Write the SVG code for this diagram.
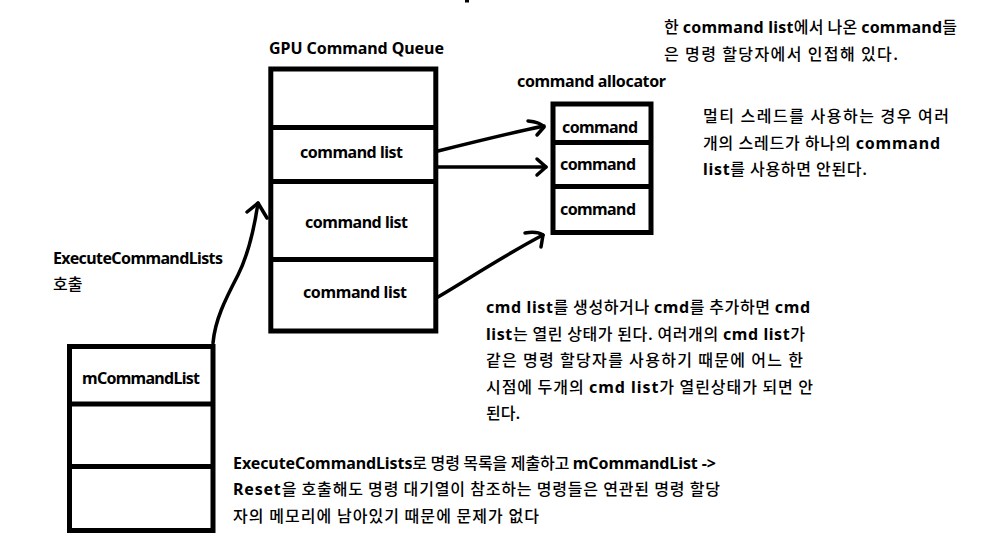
<svg xmlns="http://www.w3.org/2000/svg" width="985" height="543" viewBox="0 0 985 543">
<style>
.box{fill:none;stroke:#000;stroke-width:5}
.div{stroke:#000;stroke-width:5}
.t{font-family:"Noto Sans","Noto Sans CJK KR",sans-serif;font-weight:bold;font-size:16px;fill:#000}
.k{font-family:"Noto Sans CJK KR",sans-serif;font-weight:500}
.conn{fill:none;stroke:#000;stroke-width:3.5;stroke-linecap:round;stroke-linejoin:round}
</style>
<rect width="985" height="543" fill="#fff"/>
<rect x="465" y="0" width="4" height="2.5" fill="#000"/>
<g id="gpu-command-queue">
<text class="t" x="269" y="54" textLength="175">GPU Command Queue</text>
<rect class="box" x="270.8" y="69" width="165" height="262"/>
<line class="div" x1="270.8" y1="127.5" x2="435.8" y2="127.5"/>
<line class="div" x1="270.8" y1="181.5" x2="435.8" y2="181.5"/>
<line class="div" x1="270.8" y1="259.5" x2="435.8" y2="259.5"/>
<text class="t" x="300" y="158" textLength="103">command list</text>
<text class="t" x="305" y="228" textLength="103">command list</text>
<text class="t" x="303" y="298" textLength="104">command list</text>
</g>
<g id="command-allocator">
<text class="t" x="517" y="87" textLength="149">command allocator</text>
<rect class="box" x="553" y="104" width="98" height="128.5"/>
<line class="div" x1="553" y1="142.5" x2="651" y2="142.5"/>
<line class="div" x1="553" y1="186.5" x2="651" y2="186.5"/>
<text class="t" x="562" y="133" textLength="76">command</text>
<text class="t" x="560" y="170" textLength="76">command</text>
<text class="t" x="560" y="215" textLength="76">command</text>
</g>
<g id="mcommandlist">
<rect class="box" x="69.5" y="346.5" width="143.5" height="184"/>
<line class="div" x1="69.5" y1="404" x2="213" y2="404"/>
<line class="div" x1="69.5" y1="466.5" x2="213" y2="466.5"/>
<text class="t" x="82" y="384" textLength="118">mCommandList</text>
</g>
<g id="execute-label">
<text class="t" x="53" y="264" textLength="170">ExecuteCommandLists</text>
<text class="t" x="53" y="290"><tspan class="k">호출</tspan></text>
</g>
<g id="note-adjacent">
<text class="t" x="664" y="33" textLength="293"><tspan class="k">한 </tspan>command list<tspan class="k">에서 나온 </tspan>command<tspan class="k">들</tspan></text>
<text class="t" x="664" y="60" textLength="234"><tspan class="k">은 명령 할당자에서 인접해 있다.</tspan></text>
</g>
<g id="note-thread">
<text class="t" x="703" y="122" textLength="246"><tspan class="k">멀티 스레드를 사용하는 경우 여러</tspan></text>
<text class="t" x="703" y="148.5" textLength="237"><tspan class="k">개의 스레드가 하나의 </tspan>command</text>
<text class="t" x="703" y="175" textLength="164">list<tspan class="k">를 사용하면 안된다.</tspan></text>
</g>
<g id="note-open">
<text class="t" x="486" y="313" textLength="324">cmd list<tspan class="k">를 생성하거나 </tspan>cmd<tspan class="k">를 추가하면 </tspan>cmd</text>
<text class="t" x="486" y="339.5" textLength="319">list<tspan class="k">는 열린 상태가 된다. 여러개의 </tspan>cmd list<tspan class="k">가</tspan></text>
<text class="t" x="486" y="366" textLength="317"><tspan class="k">같은 명령 할당자를 사용하기 때문에 어느 한</tspan></text>
<text class="t" x="486" y="392.7" textLength="327"><tspan class="k">시점에 두개의 </tspan>cmd list<tspan class="k">가 열린상태가 되면 안</tspan></text>
<text class="t" x="486" y="419.3"><tspan class="k">된다.</tspan></text>
</g>
<g id="note-reset">
<text class="t" x="233" y="468.5" textLength="483">ExecuteCommandLists<tspan class="k">로 명령 목록을 제출하고 </tspan>mCommandList -&gt;</text>
<text class="t" x="233" y="495" textLength="487">Reset<tspan class="k">을 호출해도 명령 대기열이 참조하는 명령들은 연관된 명령 할당</tspan></text>
<text class="t" x="233" y="521.5" textLength="306"><tspan class="k">자의 메모리에 남아있기 때문에 문제가 없다</tspan></text>
</g>
<g id="connectors">
<path class="conn" d="M438,151 C470,143 510,133 544,126"/>
<path class="conn" d="M528,121 Q540,122 544,127 L537,135"/>
<path class="conn" d="M438,167 L546,167"/>
<path class="conn" d="M537,159 L546,167 L537,175"/>
<path class="conn" d="M438,297 C470,278 510,252 543,235"/>
<path class="conn" d="M525,233 Q537,231 543,235 L541,247"/>
<path class="conn" d="M213,343 C215,320 225,300 238,275 C248,255 254,230 258,203"/>
<path class="conn" d="M247,212 L258,203 L267,218"/>
</g>
</svg>
